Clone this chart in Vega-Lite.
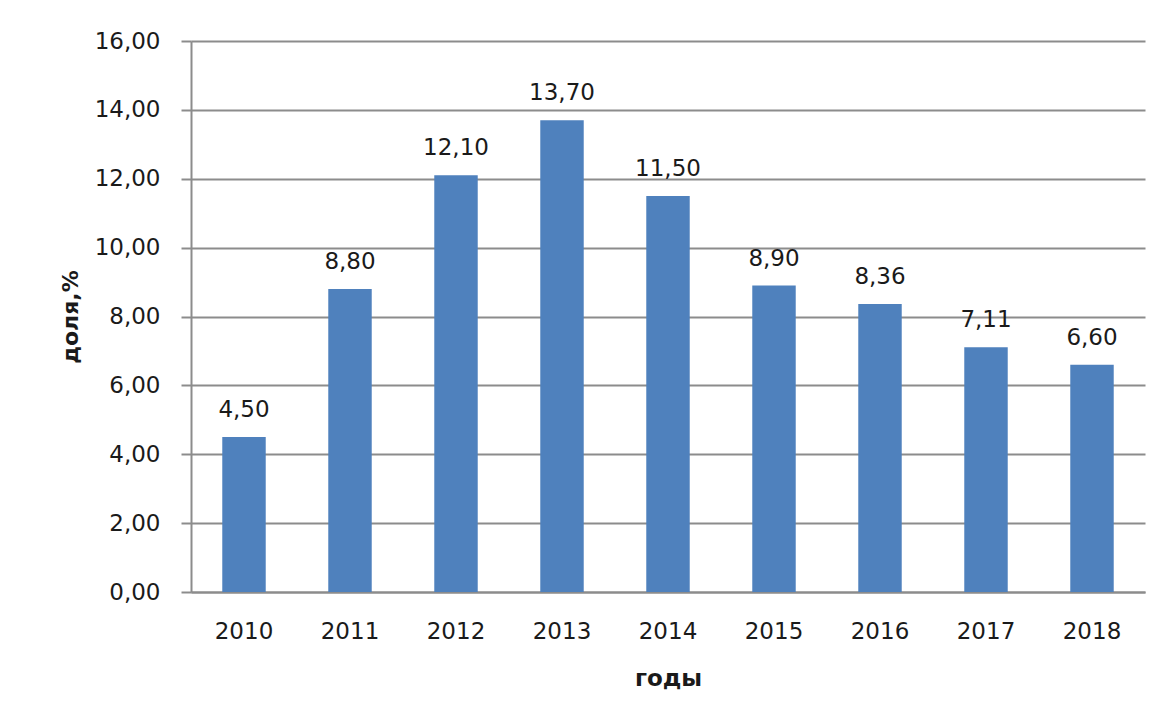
{
  "$schema": "https://vega.github.io/schema/vega-lite/v6.json",
  "autosize": "none",
  "width": 954,
  "height": 551,
  "padding": {"left": 191, "top": 41, "right": 19, "bottom": 128},
  "background": "white",
  "config": {
    "locale": {"number": {"decimal": ",", "thousands": " ", "grouping": [3], "currency": ["", ""]}},
    "view": {"stroke": null},
    "font": "DejaVu Sans"
  },
  "data": {
    "values": [
      {"year": "2010", "value": 4.50},
      {"year": "2011", "value": 8.80},
      {"year": "2012", "value": 12.10},
      {"year": "2013", "value": 13.70},
      {"year": "2014", "value": 11.50},
      {"year": "2015", "value": 8.90},
      {"year": "2016", "value": 8.36},
      {"year": "2017", "value": 7.11},
      {"year": "2018", "value": 6.60}
    ]
  },
  "encoding": {
    "x": {
      "field": "year", "type": "ordinal", "title": "годы",
      "scale": {"paddingInner": 0.59, "paddingOuter": 0.295},
      "axis": {
        "labelAngle": 0, "labelFontSize": 23, "labelColor": "#1a1a1a", "labelPadding": 28,
        "ticks": false, "domainColor": "#8c8c8c", "domainWidth": 2,
        "titleFontSize": 23, "titleFontWeight": "bold", "titleColor": "#1a1a1a", "titlePadding": 24,
        "grid": false
      }
    },
    "y": {
      "field": "value", "type": "quantitative", "title": "доля,%",
      "scale": {"domain": [0, 16], "nice": false},
      "axis": {
        "values": [0, 2, 4, 6, 8, 10, 12, 14, 16], "format": ".2f",
        "labelFontSize": 23, "labelColor": "#1a1a1a", "labelPadding": 21,
        "tickSize": 10, "tickColor": "#8c8c8c", "tickWidth": 2,
        "domainColor": "#8c8c8c", "domainWidth": 2,
        "gridColor": "#8c8c8c", "gridWidth": 2,
        "titleFontSize": 22, "titleFontWeight": "bold", "titleColor": "#1a1a1a", "titlePadding": 12
      }
    }
  },
  "layer": [
    {"mark": {"type": "bar", "color": "#4F81BD"}},
    {
      "mark": {"type": "text", "fontSize": 23, "color": "#1a1a1a", "baseline": "alphabetic", "dy": -20},
      "encoding": {"text": {"field": "value", "type": "quantitative", "format": ".2f"}}
    }
  ]
}
